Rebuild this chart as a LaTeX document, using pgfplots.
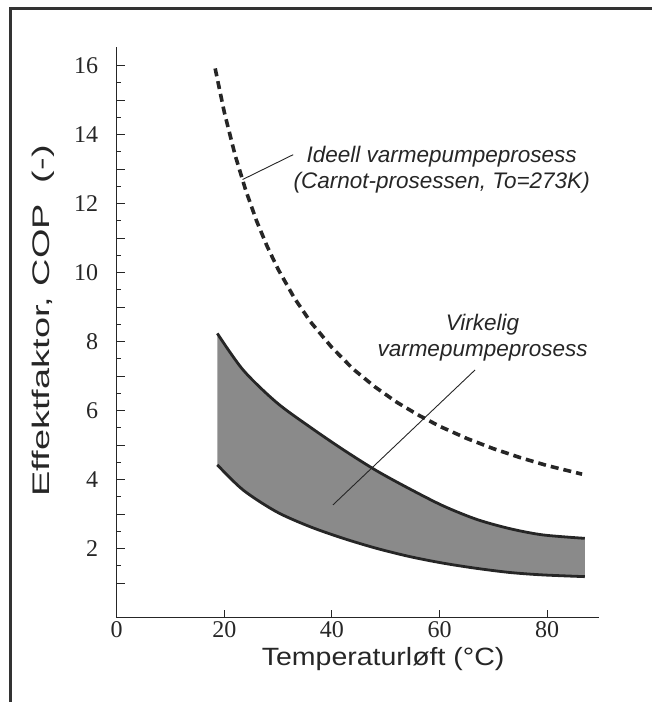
\documentclass[border=0pt]{standalone}
\usepackage{fontspec}
\setmainfont{Liberation Serif}
\newfontfamily\sansf{Liberation Sans}
\newfontfamily\tickf{Liberation Serif}
\usepackage{pgfplots}
\pgfplotsset{compat=1.18}
\usepgfplotslibrary{fillbetween}

\begin{document}
\begin{tikzpicture}
\draw[line width=3pt, black!80] (10pt,-5pt) -- (10pt,693.5pt) -- (660pt,693.5pt);
\begin{axis}[
  at={(116.7pt,84.3pt)}, anchor=south west,
  scale only axis, width=482.6pt, height=571pt,
  xmin=0, xmax=89.7, ymin=0, ymax=16.55,
  axis x line=bottom, axis y line=left,
  axis line style={-, line width=1.3pt, black!85},
  xtick={0,20,40,60,80},
  xticklabels={0,20,40,60,80},
  ytick={1,2,3,4,5,6,7,8,9,10,11,12,13,14,15,16},
  yticklabels={,2,,4,,6,,8,,10,,12,,14,,16},
  minor y tick num=1,
  tick align=inside,
  major tick length=8pt, minor tick length=4pt,
  tick style={line width=1.1pt, black!85},
  yticklabel style={font=\tickf\fontsize{24}{24}\selectfont, text=black!85, anchor=east, xshift=-15pt},
  xticklabel style={font=\tickf\fontsize{24}{24}\selectfont, text=black!85, anchor=north, yshift=0pt},
  /pgf/number format/assume math mode=true,
  xlabel={\scalebox{1.14}[1]{Temperaturløft (°C)}},
  xlabel style={font=\sansf\fontsize{25}{25}\selectfont, text=black!85, at={(axis description cs:0.552,-0.083)}, anchor=base},
  ylabel={\scalebox{1.58}[1]{Effektfaktor, COP\ \ (-)}},
  ylabel style={font=\sansf\fontsize{24}{24}\selectfont, text=black!85, at={(axis description cs:-0.14,0.52)}, anchor=base},
  clip=false,
]
% ideal (Carnot) process
\addplot[black!85, line width=3.6pt, dash pattern=on 8pt off 5pt] coordinates {
(18.3,15.92) (20,14.65) (22,13.41) (24,12.38) (26,11.50) (28,10.75) (30,10.10)
(33,9.27) (36,8.58) (40,7.83) (44,7.20) (48,6.69) (52,6.25) (56,5.88)
(60,5.55) (65,5.20) (70,4.90) (75,4.64) (80,4.41) (86.5,4.16)};
% real process band
\addplot[name path=upper, draw=none, smooth] coordinates {
(18.7,8.24) (23.5,7.18) (29.7,6.24) (35.9,5.53) (42.1,4.87) (48.3,4.26)
(54.5,3.73) (60.7,3.24) (66.9,2.85) (73.1,2.58) (79.2,2.40) (87.0,2.30)};
\addplot[name path=lower, draw=none, smooth] coordinates {
(18.7,4.43) (23.5,3.70) (29.7,3.07) (35.9,2.64) (42.1,2.30) (48.3,2.01)
(54.5,1.77) (60.7,1.58) (66.9,1.43) (73.1,1.31) (79.2,1.24) (87.0,1.19)};
\addplot[fill=black!46, draw=none] fill between[of=upper and lower];
\addplot[black!85, line width=2.8pt, smooth] coordinates {
(18.7,8.24) (23.5,7.18) (29.7,6.24) (35.9,5.53) (42.1,4.87) (48.3,4.26)
(54.5,3.73) (60.7,3.24) (66.9,2.85) (73.1,2.58) (79.2,2.40) (87.0,2.30)};
\addplot[black!85, line width=2.8pt, smooth] coordinates {
(18.7,4.43) (23.5,3.70) (29.7,3.07) (35.9,2.64) (42.1,2.30) (48.3,2.01)
(54.5,1.77) (60.7,1.58) (66.9,1.43) (73.1,1.31) (79.2,1.24) (87.0,1.19)};
% pointer lines
\addplot[black!85, line width=0.9pt] coordinates {(23.4,12.7) (32.8,13.42)};
\addplot[black!85, line width=0.9pt] coordinates {(40.2,3.27) (66.6,7.18)};
\node[font=\sansf\itshape\fontsize{22.5}{26}\selectfont, text=black!85, align=center] at (axis cs:60.4,12.98) {Ideell varmepumpeprosess\\(Carnot-prosessen, To=273K)};
\node[font=\sansf\itshape\fontsize{22.5}{26}\selectfont, text=black!85, align=center] at (axis cs:68.0,8.12) {Virkelig\\varmepumpeprosess};
\end{axis}
\pgfresetboundingbox
\useasboundingbox (0,0) rectangle (652pt,702pt);
\end{tikzpicture}
\end{document}
